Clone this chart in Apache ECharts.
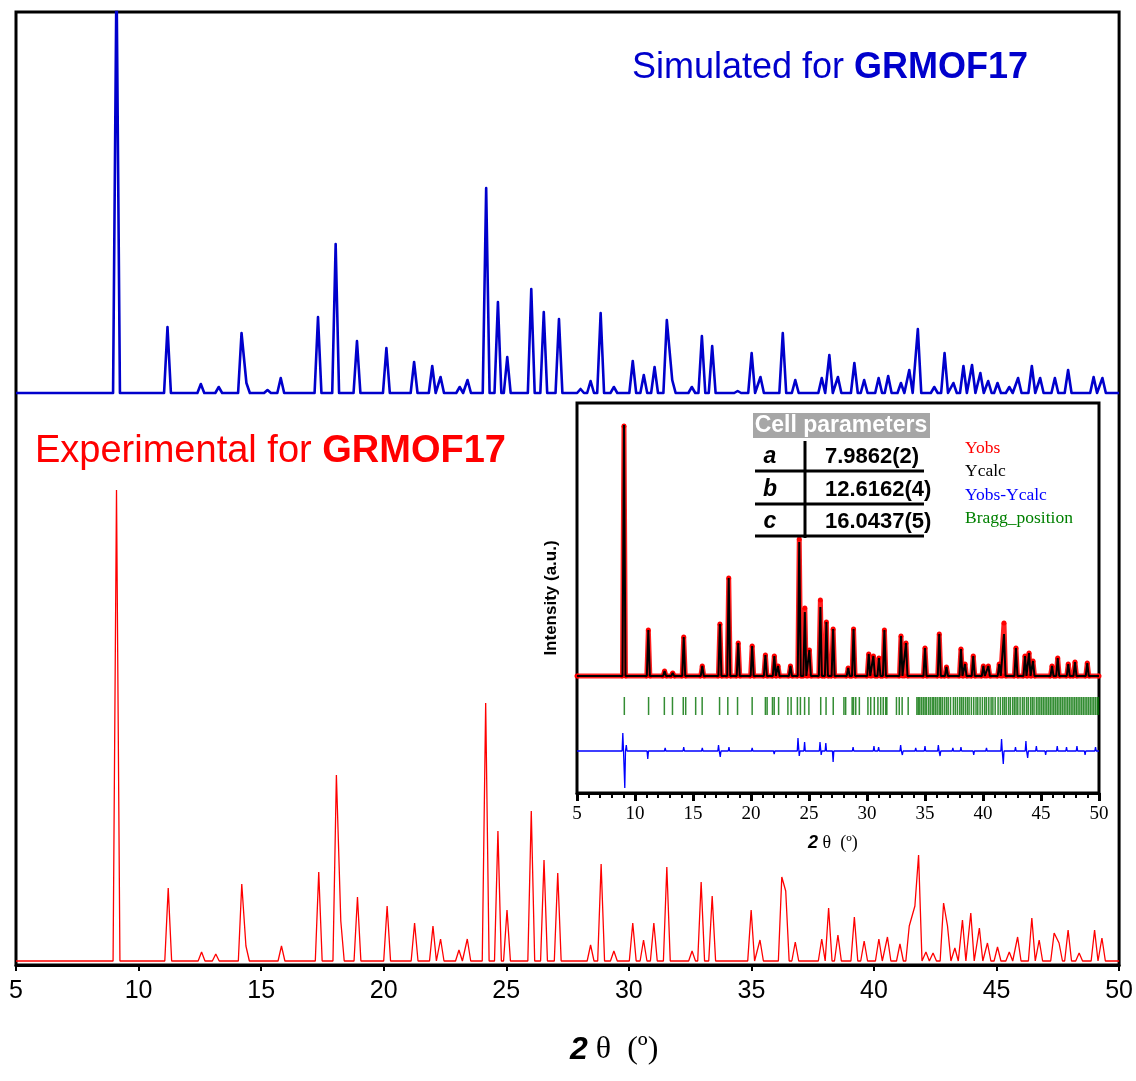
<!DOCTYPE html>
<html>
<head>
<meta charset="utf-8">
<script src="https://cdn.jsdelivr.net/npm/echarts@6/dist/echarts.min.js"></script>
<style>
  html, body { margin: 0; padding: 0; background: #fff; }
  #chart { width: 1136px; height: 1081px; }
</style>
</head>
<body>
<div id="chart"></div>
<script>
// ---- 2θ axis ----
const thetaMin = 5;
const thetaMax = 50;
const thetaStep = 5;

// ---- Simulated pattern (peak positions in 2θ, intensities in arbitrary units) ----
const simPos = [9.10, 11.18, 12.54, 13.27, 14.20, 14.40, 15.26, 15.80, 17.32, 18.04, 18.91, 20.11,
  21.24, 21.98, 22.32, 23.10, 23.42, 24.18, 24.66, 25.04, 26.02, 26.53, 27.15, 28.03, 28.44, 28.85,
  29.39, 30.16, 30.61, 31.05, 31.55, 31.77, 32.57, 32.98, 33.40, 34.44, 35.01, 35.37, 36.28, 36.79,
  37.87, 38.18, 38.53, 39.20, 39.60, 40.19, 40.58, 41.10, 41.44, 41.79, 42.46, 42.88, 43.24, 43.65,
  44.00, 44.34, 44.66, 45.04, 45.52, 45.88, 46.44, 46.78, 47.38, 47.92, 48.96, 49.32];
const simInt = [420, 66, 9, 6, 60, 10, 3, 15, 76, 149, 52, 45,
  31, 27, 16, 6, 13, 205, 91, 36, 104, 81, 74, 4, 12, 80,
  6, 32, 18, 26, 73, 13, 6, 57, 47, 2, 40, 16, 60, 13,
  15, 38, 16, 30, 13, 15, 17, 10, 23, 64, 6, 40, 10, 27,
  28, 20, 12, 10, 6, 15, 27, 15, 15, 23, 16, 15];
const simOffset = 572;

// ---- Experimental pattern ----
const expPos = [9.10, 11.21, 12.57, 13.15, 14.21, 14.38, 15.83, 17.35, 18.07, 18.25, 18.93, 20.14,
  21.26, 22.01, 22.32, 23.07, 23.41, 24.16, 24.66, 25.03, 26.02, 26.54, 27.10, 28.44, 28.87, 29.39,
  30.16, 30.60, 31.02, 31.55, 32.58, 32.95, 33.40, 34.99, 35.35, 36.24, 36.40, 36.79, 37.87, 38.15,
  38.53, 39.20, 39.60, 40.20, 40.55, 41.06, 41.44, 41.67, 41.82, 42.12, 42.41, 42.84, 43.00, 43.30,
  43.61, 43.95, 44.30, 44.63, 45.04, 45.52, 45.86, 46.44, 46.74, 47.35, 47.55, 47.92, 48.37, 49.00, 49.30];
const expInt = [471, 73, 9, 7, 77, 15, 15, 89, 186, 40, 64, 55,
  38, 35, 22, 11, 22, 258, 130, 51, 150, 101, 88, 16, 97, 10,
  38, 21, 38, 94, 10, 79, 65, 51, 21, 84, 70, 19, 22, 53,
  26, 44, 20, 22, 24, 17, 35, 55, 106, 9, 8, 58, 35, 13,
  41, 48, 33, 18, 14, 9, 24, 43, 21, 28, 18, 31, 8, 31, 23];
const expOffset = 4;

// ---- Rietveld refinement (inset) ----
const fitPos = [9.05, 11.15, 12.55, 13.25, 14.20, 15.80, 17.32, 18.08, 18.90, 20.10, 21.24, 22.01,
  22.33, 23.40, 24.16, 24.64, 25.03, 25.98, 26.50, 27.08, 28.38, 28.84, 30.15, 30.55, 31.03, 31.50,
  32.93, 33.36, 35.00, 36.23, 36.85, 38.10, 38.45, 39.16, 40.03, 40.46, 41.40, 41.81, 42.84, 43.62,
  43.97, 44.31, 45.95, 46.44, 47.35, 47.93, 48.99];
const yObs = [250, 46, 5, 3, 39, 10, 52, 98, 33, 30, 21, 20,
  10, 10, 137, 68, 26, 76, 54, 47, 8, 47, 22, 20, 18, 46,
  40, 33, 28, 42, 9, 27, 12, 20, 10, 10, 12, 53, 28, 20,
  23, 15, 10, 18, 12, 14, 13];
const yCalc = [251, 46, 5, 3, 39, 10, 52, 98, 33, 30, 21, 20,
  10, 10, 134, 64, 26, 69, 54, 47, 8, 47, 22, 20, 18, 46,
  40, 33, 28, 42, 9, 27, 12, 20, 10, 10, 12, 42, 28, 20,
  23, 15, 10, 18, 12, 14, 13];
const fitOffset = 117;

const diffPos = [8.95, 9.12, 9.25, 11.10, 12.60, 14.20, 15.80, 17.20, 17.35, 18.10, 20.10, 22.00,
  24.05, 24.16, 24.62, 25.95, 26.05, 26.45, 27.08, 28.80, 30.60, 31.00, 32.90, 33.05, 34.20, 35.00,
  36.15, 36.30, 37.40, 38.10, 39.20, 40.30, 41.60, 41.75, 42.80, 43.70, 43.85, 44.60, 45.40, 46.40,
  47.20, 48.10, 48.80, 49.70];
const diffVal = [18, -37, 6, -8, 3, 4, 3, 6, -6, 4, 3, -3,
  13, -5, 9, 9, -4, 8, -11, 4, 5, 4, 6, -4, 3, 5,
  6, -5, 3, 4, -4, 3, 12, -13, 4, 10, -7, 5, -4, 5,
  4, 5, -4, 4];
const diffOffset = 42;

const braggPos = [9.08, 11.17, 12.53, 13.23, 14.16, 14.37, 15.23, 15.79, 17.29, 18.00, 18.84, 20.10,
  21.24, 21.39, 21.85, 22.00, 22.38, 23.18, 23.46, 24.00, 24.26, 24.62, 24.99, 26.01, 26.47, 27.09,
  28.01, 28.16, 28.72, 28.84, 29.03, 29.34, 30.08, 30.32, 30.63, 30.94, 31.18, 31.40, 31.61, 31.71,
  32.54, 32.78, 33.03, 33.55, 34.30, 34.42, 34.55, 34.70, 34.85, 35.00, 35.12, 35.30, 35.45, 35.62,
  35.75, 35.90, 36.05, 36.22, 36.35, 36.50, 36.68, 36.85, 37.00, 37.20, 37.45, 37.62, 37.80, 38.00,
  38.15, 38.30, 38.48, 38.65, 38.80, 39.00, 39.20, 39.40, 39.55, 39.75, 39.95, 40.15, 40.30, 40.50,
  40.70, 40.85, 41.05, 41.30, 41.50, 41.70, 41.85, 42.00, 42.20, 42.35, 42.55, 42.70, 42.85, 43.00,
  43.20, 43.40, 43.55, 43.75, 43.90, 44.10, 44.25, 44.40, 44.60, 44.75, 44.90, 45.05, 45.20, 45.35,
  45.50, 45.65, 45.80, 45.95, 46.10, 46.25, 46.40, 46.55, 46.70, 46.85, 47.00, 47.15, 47.30, 47.45,
  47.60, 47.75, 47.90, 48.05, 48.20, 48.35, 48.50, 48.65, 48.80, 48.95, 49.10, 49.25, 49.40, 49.55,
  49.70, 49.85, 49.95];
const braggLevel = 87;

const cellParams = [['a', '7.9862(2)'], ['b', '12.6162(4)'], ['c', '16.0437(5)']];
const legendItems = [['Yobs', '#ff0000'], ['Ycalc', '#000000'], ['Yobs-Ycalc', '#0000ff'], ['Bragg_position', '#008000']];

// Each reflection becomes a narrow triangle standing on the baseline; baseline
// vertices that fall inside a neighbouring reflection are dropped so close
// reflections merge into one profile.
function peakTrace(pos, amp, base, hw) {
  const spans = pos.map(p => [p - hw, p + hw]);
  const inside = (x, i) => spans.some(([a, b], j) => j !== i && x > a && x < b);
  const pts = [[thetaMin, base]];
  pos.forEach((p, i) => {
    if (!inside(p - hw, i)) pts.push([p - hw, base]);
    pts.push([p, base + amp[i]]);
    if (!inside(p + hw, i)) pts.push([p + hw, base]);
  });
  pts.push([thetaMax, base]);
  pts.sort((a, b) => a[0] - b[0]);
  return pts;
}

const SANS = 'Liberation Sans, Arial, sans-serif';
const SERIF = 'Liberation Serif, Times New Roman, serif';

const chart = echarts.init(document.getElementById('chart'), null, { renderer: 'canvas' });

const graphic = [];
// Cell parameter table
graphic.push({ type: 'rect', shape: { x: 753, y: 413, width: 177, height: 25 }, style: { fill: '#a6a6a6' }, z: 100 });
graphic.push({ type: 'text', x: 841, y: 426, z: 101,
  style: { text: 'Cell parameters', fill: '#fff', font: 'bold 23px ' + SANS, textAlign: 'center', textVerticalAlign: 'middle' } });
[471, 504, 536].forEach(y => graphic.push({ type: 'line', z: 100,
  shape: { x1: 755, y1: y, x2: 924, y2: y }, style: { stroke: '#000', lineWidth: 3 } }));
graphic.push({ type: 'line', z: 100, shape: { x1: 805, y1: 441, x2: 805, y2: 538 }, style: { stroke: '#000', lineWidth: 3 } });
cellParams.forEach(([k, v], i) => {
  const y = 457 + i * 32.5;
  graphic.push({ type: 'text', x: 770, y, z: 101,
    style: { text: k, fill: '#000', font: 'italic bold 23px ' + SANS, textAlign: 'center', textVerticalAlign: 'middle' } });
  graphic.push({ type: 'text', x: 825, y, z: 101,
    style: { text: v, fill: '#000', font: 'bold 22px ' + SANS, textAlign: 'left', textVerticalAlign: 'middle' } });
});
// Refinement legend
legendItems.forEach(([t, c], i) => graphic.push({ type: 'text', x: 965, y: 448 + i * 23.5, z: 101,
  style: { text: t, fill: c, font: '17.5px ' + SERIF, textAlign: 'left', textVerticalAlign: 'middle' } }));
// Pattern titles
graphic.push({ type: 'text', x: 632, y: 68, z: 101,
  style: { text: '{n|Simulated for }{b|GRMOF17}', textVerticalAlign: 'middle',
    rich: { n: { fill: '#0000cc', font: '36px ' + SANS }, b: { fill: '#0000cc', font: 'bold 36px ' + SANS } } } });
graphic.push({ type: 'text', x: 35, y: 452, z: 101,
  style: { text: '{n|Experimental for }{b|GRMOF17}', textVerticalAlign: 'middle',
    rich: { n: { fill: '#ff0000', font: '38px ' + SANS }, b: { fill: '#ff0000', font: 'bold 38px ' + SANS } } } });
// Axis titles
graphic.push({ type: 'text', x: 570, y: 1050, z: 101,
  style: { text: '{a|2}{b| θ  (º)}', textVerticalAlign: 'middle',
    rich: { a: { fill: '#000', font: 'italic bold 32px ' + SANS }, b: { fill: '#000', font: '32px ' + SERIF } } } });
graphic.push({ type: 'text', x: 808, y: 843, z: 101,
  style: { text: '{a|2}{b| θ  (º)}', textVerticalAlign: 'middle',
    rich: { a: { fill: '#000', font: 'italic bold 18px ' + SANS }, b: { fill: '#000', font: '18px ' + SERIF } } } });

const option = {
  backgroundColor: '#fff',
  animation: false,
  grid: [
    { left: 16, top: 12, width: 1104, height: 953, show: true, borderColor: '#000', borderWidth: 3, backgroundColor: 'transparent' },
    { left: 577, top: 403, width: 522, height: 390, show: true, borderColor: '#000', borderWidth: 3, backgroundColor: '#fff', z: 5 }
  ],
  xAxis: [
    { gridIndex: 0, type: 'value', min: thetaMin, max: thetaMax, interval: thetaStep,
      axisLine: { onZero: false, lineStyle: { color: '#000', width: 3 } },
      axisTick: { inside: false, length: 6, lineStyle: { color: '#000', width: 2 } },
      axisLabel: { color: '#000', fontSize: 25, fontFamily: SANS, margin: 14 },
      splitLine: { show: false } },
    { gridIndex: 1, type: 'value', min: thetaMin, max: thetaMax, interval: thetaStep, z: 6,
      axisLine: { onZero: false, lineStyle: { color: '#000', width: 3 } },
      axisTick: { inside: false, length: 8, lineStyle: { color: '#000', width: 3 } },
      minorTick: { show: true, splitNumber: 5, length: 5, lineStyle: { color: '#000', width: 2 } },
      axisLabel: { color: '#000', fontSize: 19, fontFamily: SERIF, margin: 12 },
      splitLine: { show: false } }
  ],
  yAxis: [
    { gridIndex: 0, type: 'value', min: 0, max: 953, show: false },
    { gridIndex: 1, type: 'value', min: 0, max: 390, z: 6,
      axisLine: { show: false }, axisTick: { show: false }, axisLabel: { show: false }, splitLine: { show: false },
      name: 'Intensity (a.u.)', nameLocation: 'middle', nameGap: 17,
      nameTextStyle: { color: '#000', fontWeight: 'bold', fontSize: 17, fontFamily: SANS } }
  ],
  series: [
    { name: 'Experimental', type: 'line', xAxisIndex: 0, yAxisIndex: 0, showSymbol: false, z: 3,
      lineStyle: { color: '#ff0000', width: 1.3 }, data: peakTrace(expPos, expInt, expOffset, 0.14) },
    { name: 'Simulated', type: 'line', xAxisIndex: 0, yAxisIndex: 0, showSymbol: false, z: 3,
      lineStyle: { color: '#0000cc', width: 2.6, join: 'round' }, data: peakTrace(simPos, simInt, simOffset, 0.14) },
    { name: 'Yobs', type: 'line', xAxisIndex: 1, yAxisIndex: 1, z: 7,
      symbol: 'circle', symbolSize: 5, showAllSymbol: true, itemStyle: { color: '#ff0000' },
      lineStyle: { color: '#ff2020', width: 5 }, data: peakTrace(fitPos, yObs, fitOffset, 0.13) },
    { name: 'Ycalc', type: 'line', xAxisIndex: 1, yAxisIndex: 1, showSymbol: false, z: 8,
      lineStyle: { color: '#000', width: 2 }, data: peakTrace(fitPos, yCalc, fitOffset, 0.13) },
    { name: 'Bragg_position', type: 'scatter', xAxisIndex: 1, yAxisIndex: 1, z: 7,
      symbol: 'rect', symbolSize: [1.5, 18], itemStyle: { color: '#007000' },
      data: braggPos.map(p => [p, braggLevel]) },
    { name: 'Yobs-Ycalc', type: 'line', xAxisIndex: 1, yAxisIndex: 1, showSymbol: false, z: 7,
      lineStyle: { color: '#0000ff', width: 1.3 }, data: peakTrace(diffPos, diffVal, diffOffset, 0.06) }
  ],
  graphic: graphic
};
chart.setOption(option);
</script>
</body>
</html>
